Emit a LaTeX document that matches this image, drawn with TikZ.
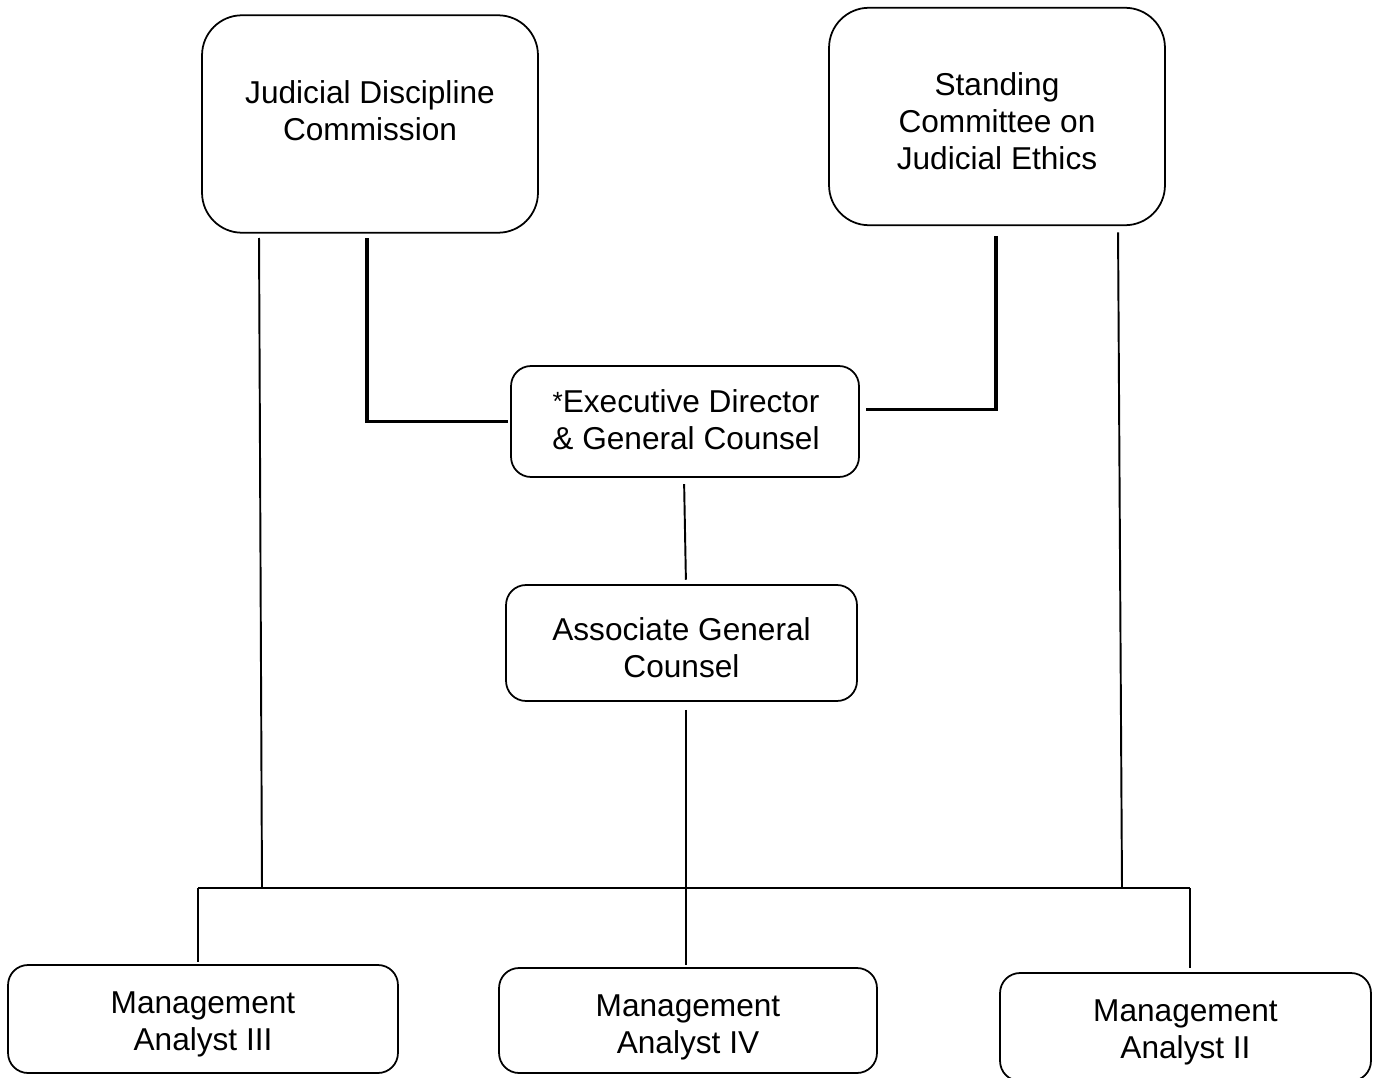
\documentclass[tikz,border=0pt]{standalone}
\usepackage{fontspec}
\setmainfont{Liberation Sans}
\usepackage{tikz}

\begin{document}
\begin{tikzpicture}[x=0.02cm, y=-0.02cm,
                    txt/.style={align=center, font=\fontsize{18}{21}\selectfont},
                    unit/.style={draw, line width=1pt, rounded corners=0.4cm,
                                 inner sep=0, outer sep=0},
                    board/.style={unit, rounded corners=0.8cm,
                                  minimum width=6.72cm, minimum height=4.35cm},
                    tline/.style={line width=1.1pt},
                    kline/.style={line width=1.8pt}]
                \useasboundingbox (0,0) rectangle (1373,1078);

                \node[board] (jdc) at (370,124) {};
                \node[txt] (jdctxt) at (370,111) {Judicial Discipline\\Commission};
                \node[board] (sce) at (997,116.5) {};
                \node[txt] (scetxt) at (997,121) {Standing\\Committee on\\Judicial Ethics};

                \node[unit, minimum width=6.96cm, minimum height=2.22cm] (ed) at (685,421.5) {};
                \node[txt] (edtxt) at (686,419.5)
                    {\raisebox{1pt}{\fontsize{15}{15}\selectfont*}Executive Director\\\& General Counsel};
                \node[unit, minimum width=7.02cm, minimum height=2.32cm] (agc) at (681.5,643) {};
                \node[txt] (agctxt) at (681.5,647.5) {Associate General\\Counsel};

                \node[unit, minimum width=7.8cm, minimum height=2.16cm] (ma3) at (203,1019) {};
                \node[txt] (ma3txt) at (203,1024) {Management\\Analyst III};
                \node[unit, minimum width=7.56cm, minimum height=2.1cm] (ma4) at (688,1020.5) {};
                \node[txt] (ma4txt) at (688,1027.5) {Management\\Analyst IV};
                \node[unit, minimum width=7.42cm, minimum height=2.16cm] (ma2) at (1185.5,1027) {};
                \node[txt] (ma2txt) at (1185.5,1032.5) {Management\\Analyst II};

                \coordinate (busW) at (198,888);
                \coordinate (busE) at (1190,888);
                \coordinate (busJ) at (262,888);
                \coordinate (busA) at (686,888);
                \coordinate (busS) at (1122,888);

                \draw[kline, shorten <=3pt, shorten >=2pt] (jdc.south -| 367,0) |- (ed.west);
                \draw[kline, shorten <=6pt, shorten >=4pt] (sce.south -| 996,0) |- ([yshift=6.8pt]ed.east);
                \draw[tline, shorten <=4pt, shorten >=3pt] (ed.south -| 684,0) -- (agc.north -| busA);

                \draw[tline, shorten <=3pt] (jdc.south -| 259,0) -- (busJ);
                \draw[tline, shorten <=4pt] (sce.south -| 1118,0) -- (busS);
                \draw[tline, shorten <=5pt] (agc.south -| busA) -- (busA);
                \draw[tline] (busW) -- (busE);

                \draw[tline, shorten >=2pt] (busW) -- (busW |- ma3.north);
                \draw[tline, shorten >=2pt] (busA) -- (busA |- ma4.north);
                \draw[tline, shorten >=3pt] (busE) -- (busE |- ma2.north);
            \end{tikzpicture}
\end{document}
